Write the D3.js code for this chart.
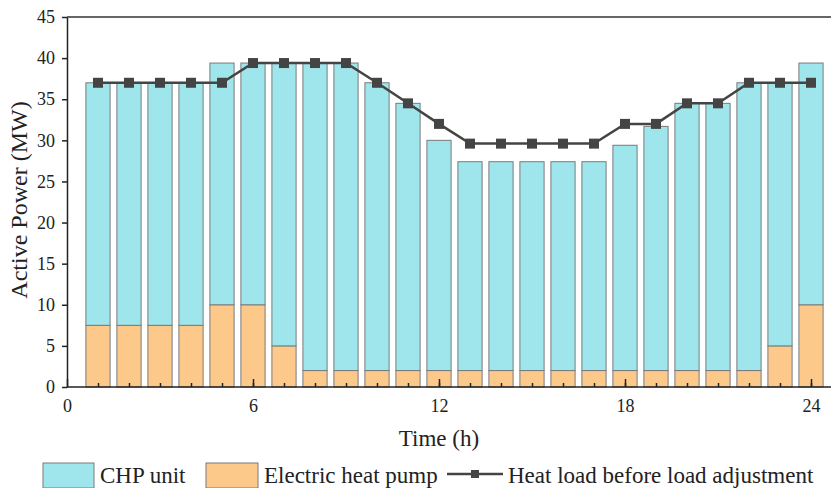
<!DOCTYPE html>
<html>
<head>
<meta charset="utf-8">
<script src="https://cdn.jsdelivr.net/npm/d3@7"></script>
<style>
  body { margin: 0; background: #fff; }
</style>
</head>
<body>
<div id="chart"></div>
<script>
// hours 1..24
let hours = d3.range(1, 25);

// electric heat pump output (MW)
let heatPump = [7.5, 7.5, 7.5, 7.5, 10, 10, 5, 2, 2, 2, 2, 2,
                2, 2, 2, 2, 2, 2, 2, 2, 2, 2, 5, 10];

// total supplied heat (top of the stacked bar) (MW)
let totalSupply = [37, 37, 37, 37, 39.4, 39.4, 39.4, 39.4, 39.4, 37, 34.5, 30,
                   27.4, 27.4, 27.4, 27.4, 27.4, 29.4, 31.7, 34.5, 34.5, 37, 37, 39.4];

// CHP unit output = total minus heat pump
let chp = totalSupply.map(function(t, i) { return +(t - heatPump[i]).toFixed(2); });

// heat load before load adjustment (MW)
let heatLoad = [37, 37, 37, 37, 37, 39.4, 39.4, 39.4, 39.4, 37, 34.5, 32,
                29.6, 29.6, 29.6, 29.6, 29.6, 32, 32, 34.5, 34.5, 37, 37, 37];

let xTicks = [0, 6, 12, 18, 24];
let yTicks = d3.range(0, 50, 5);

let FONT = "'Liberation Serif', 'Times New Roman', Times, 'DejaVu Serif', serif";

// set the dimensions and margins of the graph
let W = 831, H = 488;
let margin = {top: 17, right: 0, bottom: 101, left: 67},
    width = W - margin.left - margin.right,
    height = H - margin.top - margin.bottom;

let root = d3.select("#chart")
  .append("svg")
    .attr("width", W)
    .attr("height", H)
    .style("font-family", FONT);

let svg = root.append("g")
    .attr("transform", "translate(" + margin.left + "," + margin.top + ")");

// scales
let x = d3.scaleLinear()
    .domain([0, 24])
    .range([0, 744]);
let y = d3.scaleLinear()
    .domain([0, 45])
    .range([height, 0]);

let barW = x(0.78) - x(0);

let cChp = "#9ee6ec", cHp = "#fdc98b", cLine = "#444444";

// stacked bars
let rows = hours.map(function(h, i) { return {hour: h, hp: heatPump[i], chp: chp[i]}; });
let stack = d3.stack().keys(["hp", "chp"])(rows);
let colors = {hp: cHp, chp: cChp};

svg.append("g")
  .selectAll("g")
  .data(stack)
  .enter().append("g")
    .attr("fill", function(d) { return colors[d.key]; })
  .selectAll("rect")
  .data(function(d) { return d; })
  .enter().append("rect")
    .attr("x", function(d) { return x(d.data.hour) - barW / 2; })
    .attr("y", function(d) { return y(d[1]); })
    .attr("width", barW)
    .attr("height", function(d) { return y(d[0]) - y(d[1]); })
    .attr("stroke", "#7a7a7a")
    .attr("stroke-width", 1);

// heat load line
let line = d3.line()
    .x(function(d, i) { return x(hours[i]); })
    .y(function(d) { return y(d); });

svg.append("path")
    .datum(heatLoad)
    .attr("fill", "none")
    .attr("stroke", cLine)
    .attr("stroke-width", 2.5)
    .attr("d", line);

svg.append("g")
  .selectAll("rect")
  .data(heatLoad)
  .enter().append("rect")
    .attr("x", function(d, i) { return x(hours[i]) - 5; })
    .attr("y", function(d) { return y(d) - 5; })
    .attr("width", 10)
    .attr("height", 10)
    .attr("fill", cLine);

// frame: top line
svg.append("line")
    .attr("x1", 0).attr("x2", width)
    .attr("y1", 0).attr("y2", 0)
    .attr("stroke", "#333").attr("stroke-width", 1.5);

// Y axis
let yAxis = svg.append("g")
    .call(d3.axisLeft(y).tickValues(yTicks).tickSize(5).tickPadding(7).tickSizeOuter(0));
yAxis.attr("font-family", null);
yAxis.select(".domain").attr("stroke", "#222").attr("stroke-width", 1.5);
yAxis.selectAll("text").attr("font-size", 18).attr("fill", "#222");

// X axis: minor ticks every hour, major labelled ticks every 6 h, pointing inward
let xMinor = svg.append("g")
    .attr("transform", "translate(0," + height + ")")
    .call(d3.axisBottom(x).tickValues(hours).tickSize(-4).tickFormat(""));
xMinor.select(".domain").remove();

let xAxis = svg.append("g")
    .attr("transform", "translate(0," + height + ")")
    .call(d3.axisBottom(x).tickValues(xTicks).tickSize(-8).tickPadding(12).tickSizeOuter(0));
xAxis.attr("font-family", null);
xAxis.select(".domain").attr("d", "M0,0H" + width).attr("stroke", "#222").attr("stroke-width", 1.5);
xAxis.selectAll("text").attr("font-size", 18).attr("fill", "#222");
svg.selectAll(".tick line").attr("stroke", "#222").attr("stroke-width", 1.5);

// axis titles
svg.append("text")
    .attr("x", x(12))
    .attr("y", height + 59)
    .attr("text-anchor", "middle")
    .attr("font-size", 23)
    .attr("fill", "#222")
    .text("Time (h)");

svg.append("text")
    .attr("transform", "translate(" + (-40) + "," + (height / 2 - 2) + ") rotate(-90)")
    .attr("text-anchor", "middle")
    .attr("font-size", 24)
    .attr("fill", "#222")
    .text("Active Power (MW)");

// legend
let lg = root.append("g").attr("transform", "translate(0,463)");
lg.append("rect").attr("x", 43).attr("y", 0).attr("width", 51).attr("height", 25)
  .attr("fill", cChp).attr("stroke", "#7a7a7a");
lg.append("text").attr("x", 100).attr("y", 20).attr("font-size", 23).attr("fill", "#222").text("CHP unit");
lg.append("rect").attr("x", 206).attr("y", 0).attr("width", 52).attr("height", 25)
  .attr("fill", cHp).attr("stroke", "#7a7a7a");
lg.append("text").attr("x", 264).attr("y", 20).attr("font-size", 23).attr("fill", "#222").text("Electric heat pump");
lg.append("line").attr("x1", 447).attr("x2", 503).attr("y1", 11).attr("y2", 11)
  .attr("stroke", cLine).attr("stroke-width", 2.5);
lg.append("rect").attr("x", 471).attr("y", 7).attr("width", 8).attr("height", 8).attr("fill", cLine);
lg.append("text").attr("x", 508).attr("y", 20).attr("font-size", 23).attr("fill", "#222").text("Heat load before load adjustment");
</script>
</body>
</html>
